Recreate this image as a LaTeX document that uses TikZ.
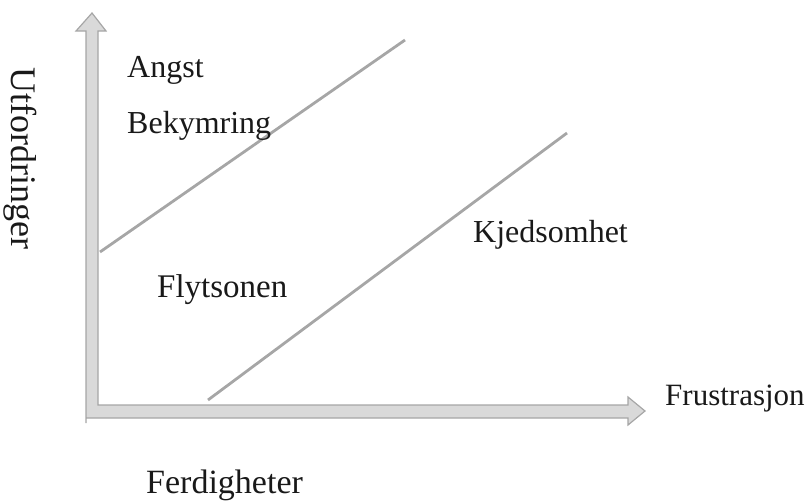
\documentclass[tikz,border=0pt]{standalone}
\usepackage{fontspec}
\setmainfont{Liberation Serif}
\begin{document}
\begin{tikzpicture}[x=1pt,y=-1pt,
  lbl/.style={inner sep=0pt,anchor=base west,text=black!90},
  axisarrow/.style={fill=gray!30,draw=gray!70,line width=1.2pt,line join=miter},
  diag/.style={draw=gray!70,line width=2.8pt}]
\useasboundingbox (0,0) rectangle (811,501);
% axis arrows (one outline)
\draw[axisarrow] (86,423) -- (86,31) -- (76,31) -- (92,13) -- (106,31) -- (98,31) -- (98,405) -- (628,405) -- (628,397) -- (645,411) -- (628,425) -- (628,418) -- (86,418) -- cycle;
% coordinates for diagonal lines
\coordinate (a1) at (100,252);
\coordinate (a2) at (405,40);
\coordinate (b1) at (208,400);
\coordinate (b2) at (567,133);
\draw[diag] (a1) -- (a2);
\draw[diag] (b1) -- (b2);
% labels
\node[lbl] (angst) at (127,77) {\fontsize{32}{38}\selectfont Angst};
\node[lbl] (bek) at (127,133) {\fontsize{32}{38}\selectfont Bekymring};
\node[lbl] (flyt) at (157,297) {\fontsize{33}{40}\selectfont Flytsonen};
\node[lbl] (kjed) at (473,242) {\fontsize{32}{38}\selectfont Kjedsomhet};
\node[lbl] (frus) at (665,405) {\fontsize{31}{38}\selectfont Frustrasjon};
\node[lbl] (ferd) at (146,493) {\fontsize{34}{40}\selectfont Ferdigheter};
\node[lbl,rotate=-90] (utf) at (12,67) {\fontsize{36}{42}\selectfont Utfordringer};
\end{tikzpicture}
\end{document}
